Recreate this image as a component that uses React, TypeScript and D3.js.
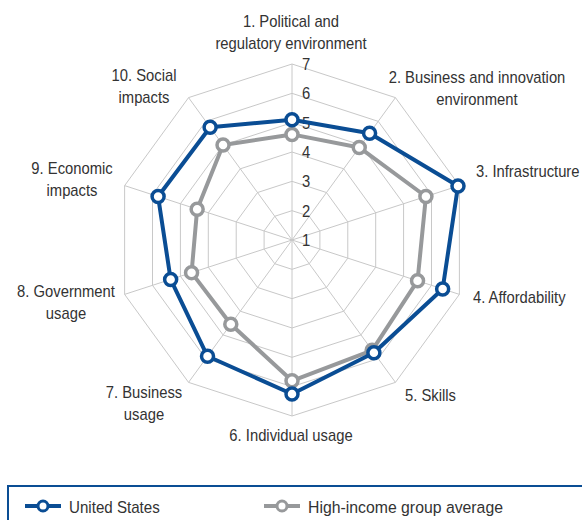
import React from "react";
import * as d3 from "d3";

const categories = [
  ["1. Political and", "regulatory environment"],
  ["2. Business and innovation", "environment"],
  ["3. Infrastructure"],
  ["4. Affordability"],
  ["5. Skills"],
  ["6. Individual usage"],
  ["7. Business", "usage"],
  ["8. Government", "usage"],
  ["9. Economic", "impacts"],
  ["10. Social", "impacts"],
];
const unitedStates = [5.1, 5.5, 6.95, 6.4, 5.75, 6.25, 5.9, 5.35, 5.8, 5.75];
const highIncome = [4.6, 4.9, 5.8, 5.5, 5.65, 5.8, 4.55, 4.6, 4.4, 5.0];
const ticks = [1, 2, 3, 4, 5, 6, 7];

// label placement (x, first baseline, anchor)
const labelLayout: [number, number, string][] = [
  [291, 27, "middle"],
  [477, 83, "middle"],
  [476, 177, "start"],
  [473, 303, "start"],
  [405, 401, "start"],
  [291, 441, "middle"],
  [144, 398, "middle"],
  [66, 297, "middle"],
  [72, 174, "middle"],
  [144, 81, "middle"],
];

const W = 582;
const H = 520;
const cx = 292;
const cy = 240;
const BLUE = "#0a4d94";
const GRAY = "#97999b";
const FONT = "'Liberation Sans', Arial, sans-serif";

const r = d3.scaleLinear().domain([1, 7]).range([0, 176]);
const angle = (i: number) => (i * 2 * Math.PI) / categories.length;
const pt = (i: number, v: number): [number, number] => [
  cx + r(v) * Math.sin(angle(i)),
  cy - r(v) * Math.cos(angle(i)),
];

// condensed-looking text: regular sans squeezed horizontally
const NText = ({ x, y, lines, anchor = "start", size = 17, sx = 0.87 }: any) => (
  <text
    transform={`translate(${x},${y}) scale(${sx},1)`}
    fontSize={size}
    fill="#333"
    textAnchor={anchor}
  >
    {lines.map((l: string, j: number) => (
      <tspan key={j} x={0} y={j * 22}>
        {l}
      </tspan>
    ))}
  </text>
);

const App = () => {
  const ring = (v: number) =>
    d3.line()(categories.map((_, i) => pt(i, v)).concat([pt(0, v)])) as string;
  const seriesPath = (vals: number[]) =>
    d3.line()(vals.map((v, i) => pt(i, v)).concat([pt(0, vals[0])])) as string;

  const series = [
    { name: "High-income group average", values: highIncome, color: GRAY },
    { name: "United States", values: unitedStates, color: BLUE },
  ];

  return (
    <svg
      width={W}
      height={H}
      style={{ position: "absolute", left: 0, top: 0, background: "#fff" }}
      fontFamily={FONT}
    >
      {ticks.slice(1).map((t) => (
        <path key={t} d={ring(t)} fill="none" stroke="#c8c8c8" strokeWidth={1} />
      ))}
      {categories.map((_, i) => {
        const [x, y] = pt(i, 7);
        return <line key={i} x1={cx} y1={cy} x2={x} y2={y} stroke="#c8c8c8" strokeWidth={1} />;
      })}
      {ticks.map((t) => (
        <NText key={t} x={cx + 10} y={cy - r(t) + 6} lines={[String(t)]} size={17} />
      ))}
      {series.map((s) => (
        <g key={s.name}>
          <path d={seriesPath(s.values)} fill="none" stroke={s.color} strokeWidth={4} strokeLinejoin="round" />
          {s.values.map((v, i) => {
            const [x, y] = pt(i, v);
            return <circle key={i} cx={x} cy={y} r={6} fill="#fff" stroke={s.color} strokeWidth={3.5} />;
          })}
        </g>
      ))}
      {categories.map((lines, i) => {
        const [x, y, anchor] = labelLayout[i];
        return <NText key={i} x={x} y={y} lines={lines} anchor={anchor} />;
      })}
      <rect x={8} y={486} width={600} height={60} fill="none" stroke={BLUE} strokeWidth={2} />
      {[
        { name: "United States", color: BLUE, x: 25, sx: 0.89 },
        { name: "High-income group average", color: GRAY, x: 264, sx: 0.93 },
      ].map((l) => (
        <g key={l.name}>
          <line x1={l.x} x2={l.x + 36} y1={506} y2={506} stroke={l.color} strokeWidth={4} />
          <circle cx={l.x + 18} cy={506} r={5} fill="#fff" stroke={l.color} strokeWidth={3} />
          <NText x={l.x + 44} y={513} lines={[l.name]} sx={l.sx} />
        </g>
      ))}
    </svg>
  );
};

export default App;
